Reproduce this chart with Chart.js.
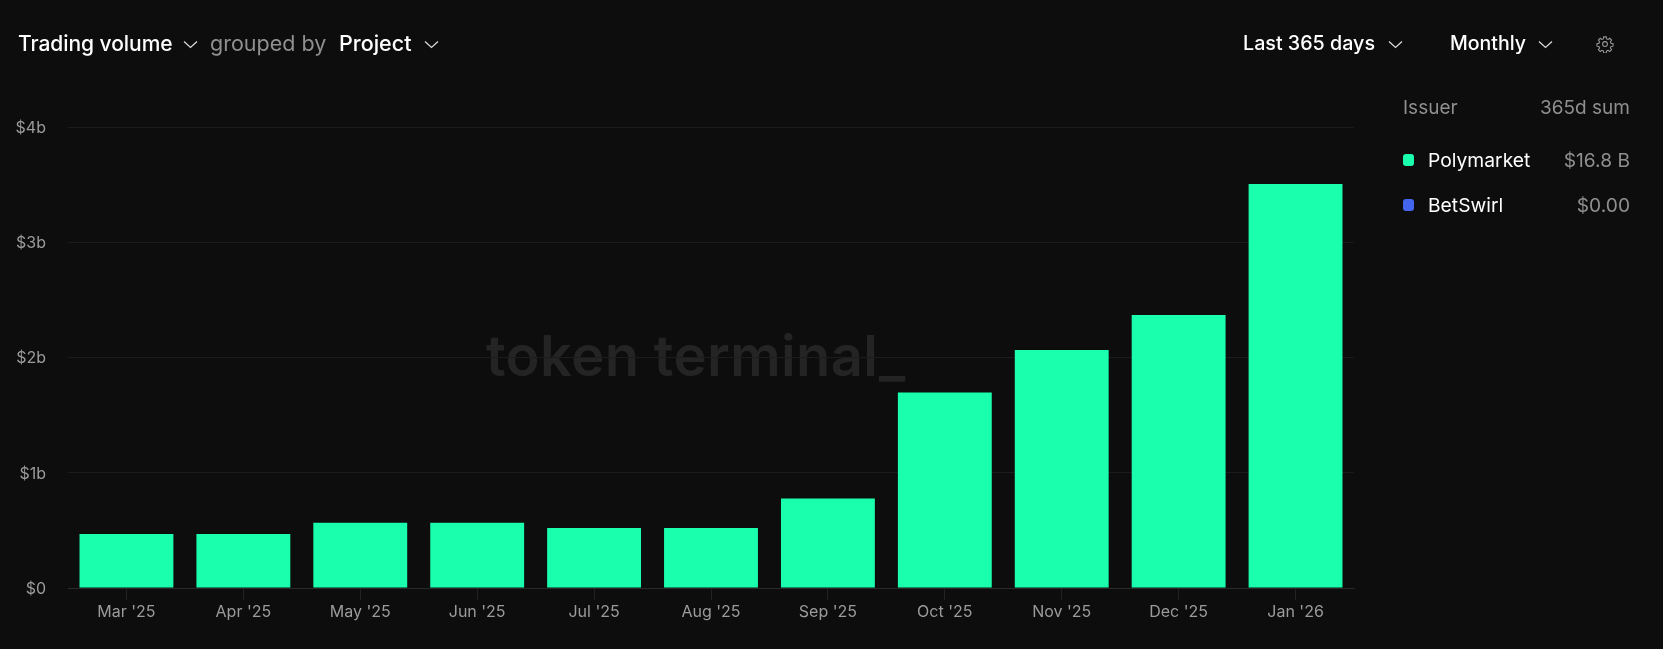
<!DOCTYPE html>
<html><head><meta charset="utf-8">
<script src="https://cdn.jsdelivr.net/npm/chart.js@4"></script>
<style>
html,body{margin:0;padding:0;background:#0d0d0d;width:1663px;height:649px;overflow:hidden;font-family:Inter,sans-serif}
.t{position:absolute;white-space:nowrap;line-height:1;font-weight:500}
.w{color:#fff}.g{color:#8f8f8f;font-weight:400}
#wm{position:absolute;left:486px;top:328px;font-family:Inter,sans-serif;font-weight:600;font-size:56px;color:#242424;letter-spacing:0.4px;line-height:1;white-space:nowrap}
canvas{position:absolute;left:0;top:0}
svg{position:absolute;fill:none}
</style></head><body>
<div id="wm">token terminal_</div>
<canvas id="c" width="1663" height="649" style="width:1663px;height:649px"></canvas>
<div class="t w" style="left:18px;top:33px;font-size:21px;letter-spacing:-0.05px">Trading volume</div>
<div class="t g" style="left:210px;top:33px;font-size:21.5px">grouped by</div>
<div class="t w" style="left:339px;top:33px;font-size:21.5px">Project</div>
<div class="t w" style="left:1243px;top:34px;font-size:19.7px">Last 365 days</div>
<div class="t w" style="left:1450px;top:34px;font-size:19.5px">Monthly</div>
<div class="t g" style="left:1403px;top:98px;font-size:19px">Issuer</div>
<div class="t g" style="right:33px;top:98px;font-size:19px">365d sum</div>
<div style="position:absolute;left:1403px;top:154px;width:11px;height:12px;border-radius:3px;background:#1affad"></div>
<div class="t w" style="left:1428px;top:151px;font-size:19.3px;font-weight:400">Polymarket</div>
<div class="t g" style="right:33px;top:151px;font-size:19.2px">$16.8 B</div>
<div style="position:absolute;left:1403px;top:199px;width:11px;height:12px;border-radius:3px;background:#4466ee"></div>
<div class="t w" style="left:1428px;top:196px;font-size:19.3px;font-weight:400">BetSwirl</div>
<div class="t g" style="right:33px;top:196px;font-size:19.2px">$0.00</div>
<svg style="left:183px;top:40px" width="15" height="9"><path d="M1 1.5L7.5 7.5L14 1.5" stroke="#ddd" stroke-width="1.2"/></svg>
<svg style="left:424px;top:40px" width="15" height="9"><path d="M1 1.5L7.5 7.5L14 1.5" stroke="#ddd" stroke-width="1.2"/></svg>
<svg style="left:1388px;top:40px" width="15" height="9"><path d="M1 1.5L7.5 7.5L14 1.5" stroke="#ddd" stroke-width="1.2"/></svg>
<svg style="left:1538px;top:40px" width="15" height="9"><path d="M1 1.5L7.5 7.5L14 1.5" stroke="#ddd" stroke-width="1.2"/></svg>
<svg style="left:1596px;top:35px" width="18" height="18" viewBox="0 0 24 24" stroke="#999" stroke-width="1.4"><circle cx="12" cy="12" r="3.2"/><path d="M10.3 2.5h3.4l.5 2.7 1.9.8 2.3-1.6 2.4 2.4-1.6 2.3.8 1.9 2.7.5v3.4l-2.7.5-.8 1.9 1.6 2.3-2.4 2.4-2.3-1.6-1.9.8-.5 2.7h-3.4l-.5-2.7-1.9-.8-2.3 1.6-2.4-2.4 1.6-2.3-.8-1.9-2.7-.5v-3.4l2.7-.5.8-1.9-1.6-2.3 2.4-2.4 2.3 1.6 1.9-.8z"/></svg>
<script>
const categories = ["Mar '25","Apr '25","May '25","Jun '25","Jul '25","Aug '25","Sep '25","Oct '25","Nov '25","Dec '25","Jan '26"];
const polymarket = [0.469,0.469,0.567,0.567,0.52,0.52,0.776,1.697,2.065,2.369,3.505];
const betswirl = [0,0,0,0,0,0,0,0,0,0,0];
const yTickLabels = ["$0","$1b","$2b","$3b","$4b"];
new Chart(document.getElementById('c'),{
  type:'bar',
  data:{labels:categories,datasets:[
    {label:'Polymarket',data:polymarket,backgroundColor:'#1affad',stack:'s'},
    {label:'BetSwirl',data:betswirl,backgroundColor:'#4466ee',stack:'s'}
  ]},
  options:{
    responsive:false,animation:false,devicePixelRatio:1,
    layout:{padding:{top:127,right:309,left:0,bottom:0}},
    plugins:{legend:{display:false},tooltip:{enabled:false}},
    datasets:{bar:{categoryPercentage:0.803,barPercentage:1}},
    scales:{
      x:{stacked:true,
        afterFit(s){s.height=61},
        grid:{display:true,drawOnChartArea:false,drawTicks:true,tickLength:12,color:'#222',offset:false},
        border:{color:'#2a2a2a',width:1},
        ticks:{color:'#9b9b9b',font:{family:'Inter',size:16},padding:3,maxRotation:0,autoSkip:false}
      },
      y:{stacked:true,min:0,max:4,
        afterFit(s){s.width=68},
        grid:{color:'#1c1c1c',drawTicks:false,lineWidth:1},
        border:{display:false},
        ticks:{color:'#9b9b9b',font:{family:'Inter',size:16},padding:22,labelOffset:1,stepSize:1,callback:(v)=>yTickLabels[v]}
      }
    }
  }
});
</script>
</body></html>
